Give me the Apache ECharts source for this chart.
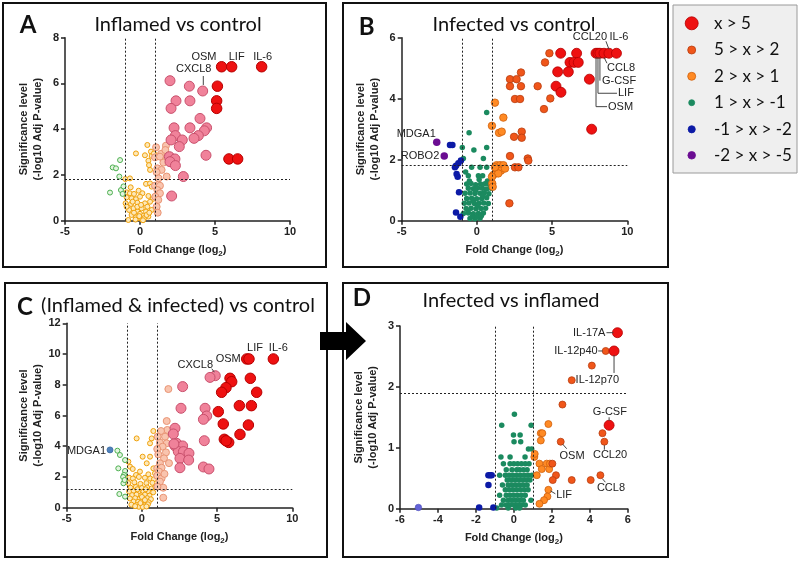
<!DOCTYPE html>
<html><head><meta charset="utf-8">
<script src="https://cdn.jsdelivr.net/npm/echarts/dist/echarts.min.js"></script>
<style>html,body{margin:0;padding:0;background:#fff}#c{width:800px;height:561px}</style>
</head><body><div id="c"></div>
<script>
// ---------------- DATA ----------------
// Panel A: Inflamed vs control  [log2 fold change, -log10 adj p]
var A_red = [[5.44,6.73],[6.11,6.73],[8.11,6.73],[5.16,5.88],[5.11,5.24],[5.11,4.91],[5.93,2.70],[6.51,2.70]];
var A_pink = [[2.0,6.12],[3.29,5.88],[4.18,5.67],[2.4,5.24],[3.33,5.24],[2.07,4.91],[4.0,4.47],[2.27,4.06],[3.33,4.06],[4.44,4.06],[4.29,3.93],[2.36,3.72],[3.89,3.72],[2.07,3.53],[2.82,3.53],[3.6,3.6],[2.62,3.24],[1.96,2.80],[2.33,2.70],[4.4,2.86],[2.0,2.58],[2.36,2.41],[2.89,1.93],[2.11,1.08]];
var A_salmon = [[1.07,3.21],[1.73,3.28],[1.4,2.92],[1.0,2.77],[1.69,3.09],[1.33,2.80],[1.73,2.65],[1.56,2.54],[1.16,2.29],[1.44,2.22],[1.11,2.12],[1.78,1.93],[1.24,1.85],[1.0,1.53],[1.33,1.53],[1.16,1.34],[1.33,1.2],[1.02,1.05],[1.22,0.91],[1.11,0.61],[1.18,0.35]];
var A_orange = [[0.49,3.31],[0.73,3.02],[-0.27,2.94],[0.33,2.86],[0.78,2.83],[0.56,2.62],[0.6,2.43],[0.93,2.94],[0.67,2.22],[-0.98,1.82],[-0.67,1.85],[-0.62,1.46],[0.40,1.61],[0.67,1.63],[0.78,1.49],[-0.09,1.31],[0.16,1.20],[-0.89,1.24],[-0.67,1.20],[-0.4,1.17],[-0.89,1.02],[-0.56,0.98],[-0.27,0.94],[0.0,1.05],[0.56,1.08],[0.84,0.95],[-0.96,0.76],[-0.6,0.73],[-0.18,0.79],[0.33,0.76],[0.67,0.83],[-0.44,0.54],[0.11,0.54],[0.49,0.61],[-0.73,0.47],[-0.16,0.40],[0.4,0.40],[0.78,0.47],[-0.56,0.25],[0.0,0.30],[0.22,0.21],[-0.27,0.15],[-0.04,0.11],[0.11,0.06],[-0.78,0.03],[0.27,0.11],[0.56,0.18],[-0.4,0.35],[-0.89,0.61],[0.44,0.25],[-0.18,0.61],[0.07,0.69],[0.62,0.35],[-0.49,0.83],[-0.05,0.2],[0.2,0.02],[-0.3,0.05]];
var A_green = [[-1.33,2.65],[-1.82,2.33],[-1.6,2.29],[-1.38,1.93],[-2.0,1.23],[-1.27,1.34],[-1.16,1.17],[-1.1,1.5]];
var A_threshold = 1.82;

// Panel B: Infected vs control
var B_red = [[7.92,5.49],[8.05,5.49],[8.18,5.49],[8.45,5.49],[8.78,5.49],[9.28,5.49],[5.57,5.49],[6.63,5.49],[6.19,5.19],[6.46,5.19],[6.74,5.19],[5.37,4.88],[6.08,4.88],[7.48,4.64],[5.26,4.41],[5.59,4.21],[7.63,3.0]];
var B_orangered = [[4.82,5.49],[4.53,5.19],[2.93,4.86],[2.2,4.64],[2.64,4.64],[2.2,4.41],[2.93,4.41],[4.04,4.41],[2.53,3.99],[2.87,3.99],[4.88,4.01],[4.46,3.66],[2.98,2.92],[2.47,2.75],[2.98,2.72],[2.2,2.12],[3.38,2.04],[3.42,1.97],[2.53,1.75],[2.76,1.75],[2.16,0.57]];
var B_orange = [[1.2,3.87],[1.0,3.11],[1.47,2.88],[1.65,2.92],[1.76,3.38],[1.31,1.82],[1.54,1.82],[1.76,1.82],[1.31,1.66],[1.6,1.64],[1.87,1.71],[1.09,1.5],[1.42,1.55],[1.02,1.22],[1.05,1.11],[1.2,1.75],[1.0,1.44]];
var B_green = [[0.65,3.55],[-0.52,2.88],[-0.97,2.4],[-0.2,2.32],[0.65,2.4],[-0.9,2.04],[0.43,2.04],[-0.75,1.6],[-0.35,1.75],[0.21,1.75],[0.65,1.75],[0.1,1.47],[0.38,1.47],[-0.57,1.47],
  [-0.68,1.2],[-0.39,1.22],[-0.08,1.18],[0.25,1.2],[0.54,1.21],[0.83,1.19],
  [-0.57,1.06],[-0.24,1.05],[0.05,1.07],[0.36,1.06],[0.65,1.04],[0.94,1.06],
  [-0.79,0.9],[-0.46,0.91],[-0.13,0.89],[0.21,0.9],[0.49,0.92],[0.8,0.88],
  [-0.68,0.73],[-0.35,0.74],[-0.02,0.72],[0.32,0.73],[0.65,0.75],
  [-0.84,0.57],[-0.53,0.58],[-0.17,0.56],[0.14,0.57],[0.45,0.58],[0.76,0.56],
  [-0.72,0.4],[-0.39,0.41],[-0.06,0.39],[0.27,0.4],[0.58,0.41],
  [-0.9,0.24],[-0.57,0.25],[-0.24,0.23],[0.1,0.24],[0.43,0.25],
  [-0.46,0.07],[-0.13,0.06],[0.21,0.08],[-0.3,0.15],[0.0,0.12],[0.3,0.16],[-0.6,0.32],[0.05,0.5],[-0.25,0.65],[0.4,0.83],[-0.1,0.98],[0.7,1.3],[-0.5,1.3],[0.15,1.35]];
var B_blue = [[-1.79,2.48],[-1.63,2.48],[-1.39,1.80],[-1.23,1.88],[-1.46,1.75],[-1.35,1.53],[-1.28,1.44],[-1.19,0.93],[-1.39,0.27],[-1.10,0.13],[-1.06,1.97]];
var B_purple = [[-2.67,2.57],[-2.17,2.12]];
var B_threshold = 1.83;

// Panel C: (Inflamed & infected) vs control
var C_red = [[6.97,9.68],[7.12,9.68],[8.74,9.68],[5.86,8.42],[5.97,8.2],[5.59,7.81],[5.3,7.51],[7.21,8.42],[7.63,7.51],[6.48,6.64],[7.28,6.64],[5.08,6.25],[5.41,5.45],[7.08,5.38],[6.52,4.77],[5.48,4.45],[5.77,4.25],[5.6,4.35]];
var C_pink = [[4.88,8.59],[4.53,8.48],[2.71,7.88],[2.6,6.47],[4.2,6.47],[4.31,5.97],[4.09,5.75],[2.2,5.17],[2.09,4.8],[2.31,4.19],[2.2,4.02],[2.71,4.02],[4.15,4.36],[2.42,3.65],[2.76,3.65],[3.13,3.54],[2.53,3.21],[3.11,3.1],[2.53,2.6],[4.09,2.65],[4.46,2.52],[2.13,4.15]];
var C_salmon = [[1.76,7.72],[1.65,5.64],[1.69,5.06],[1.27,4.99],[1.05,4.62],[1.54,4.62],[1.2,4.23],[1.65,4.19],[1.38,3.97],[1.02,3.82],[1.09,3.47],[1.6,3.6],[1.47,3.21],[1.2,2.89],[1.02,2.56],[1.31,2.6],[1.14,2.35],[1.02,2.08],[1.31,1.91],[1.2,1.7],[1.42,1.3],[1.03,1.37],[1.42,0.65],[1.8,2.9],[1.5,2.2]];
var C_orange = [[-0.35,4.51],[0.76,4.99],[0.65,4.51],[0.54,4.19],[0.05,3.32],[-0.9,3.0],[0.54,3.32],[-0.79,2.67],[-0.61,2.52],[0.32,2.89],[0.76,2.56],[0.87,2.24],[0.43,2.17],[-0.13,2.35],[-0.39,2.13],
  [-0.85,1.95],[-0.6,1.9],[-0.2,2.0],[0.2,1.95],[0.55,1.9],[0.8,1.85],
  [-0.9,1.6],[-0.5,1.65],[-0.1,1.55],[0.3,1.6],[0.7,1.62],
  [-0.75,1.3],[-0.4,1.35],[0.0,1.28],[0.35,1.32],[0.65,1.25],[0.9,1.35],
  [-0.85,1.05],[-0.55,1.1],[-0.25,1.0],[0.1,1.05],[0.4,1.08],[0.75,1.0],
  [-0.65,0.82],[-0.35,0.85],[-0.05,0.8],[0.2,0.85],[0.5,0.78],
  [-0.8,0.6],[-0.45,0.62],[-0.15,0.58],[0.1,0.6],[0.35,0.62],[0.6,0.55],
  [-0.55,0.4],[-0.25,0.38],[0.0,0.42],[0.25,0.4],[0.45,0.35],
  [-0.7,0.2],[-0.35,0.18],[-0.05,0.2],[0.15,0.15],[0.4,0.22],
  [-0.2,0.06],[0.05,0.05],[0.3,0.08],[-0.45,0.1],[0.0,0.7],[-0.3,1.2],[0.25,1.2],[-0.1,0.3],[0.2,0.5]];
var C_green = [[-1.63,3.71],[-1.46,3.43],[-1.12,3.1],[-1.57,2.56],[-1.12,2.39],[-1.19,2.13],[-1.23,1.59],[-1.5,0.89],[-1.12,0.72],[-1.25,2.0],[-1.15,1.8]];
var C_blue = [[-2.12,3.76]];
var C_threshold = 1.2;

// Panel D: Infected vs inflamed
var D_red = [[5.46,2.89],[5.28,2.59],[5.02,1.37]];
var D_orangered = [[4.84,2.59],[4.11,2.35],[3.05,2.11],[2.56,1.71],[4.67,1.24],[4.77,1.10],[2.47,1.10],[2.03,0.74],[2.22,0.55],[2.05,0.47],[3.05,0.47],[4.05,0.47],[4.56,0.55]];
var D_orange = [[1.82,1.39],[1.42,1.24],[1.5,1.24],[1.42,1.12],[1.08,0.85],[1.35,0.74],[1.73,0.74],[1.47,0.65],[1.86,0.65],[1.21,0.55],[1.82,0.31],[1.77,0.2],[1.59,0.14],[1.35,0.08],[1.9,0.74],[1.1,0.9]];
var D_green = [[0.03,1.55],[-0.64,1.37],[0.91,1.37],[-0.02,1.21],[0.33,1.21],[0.01,1.10],[0.36,1.10],[0.77,0.98],[0.94,0.98],[-0.68,0.85],[-0.2,0.85],[0.59,0.85],
  [-0.55,0.74],[-0.2,0.74],[0.0,0.74],[0.2,0.74],[0.4,0.74],[0.6,0.74],[0.8,0.74],
  [-0.4,0.64],[-0.1,0.64],[0.15,0.64],[0.3,0.64],[0.5,0.64],[0.7,0.64],
  [-0.75,0.55],[-0.45,0.55],[-0.25,0.55],[-0.05,0.55],[0.15,0.55],[0.35,0.55],[0.55,0.55],[0.75,0.55],[0.95,0.55],
  [-0.35,0.47],[-0.15,0.47],[0.05,0.47],[0.25,0.47],[0.45,0.47],[0.65,0.47],[0.85,0.47],
  [-0.6,0.39],[-0.3,0.39],[-0.1,0.39],[0.1,0.39],[0.3,0.39],[0.5,0.39],[0.7,0.39],
  [-0.45,0.31],[-0.25,0.31],[-0.05,0.31],[0.15,0.31],[0.35,0.31],[0.55,0.31],[0.75,0.31],
  [-0.75,0.22],[-0.4,0.22],[-0.2,0.22],[0.0,0.22],[0.2,0.22],[0.4,0.22],[0.6,0.22],
  [-0.55,0.14],[-0.3,0.14],[-0.1,0.14],[0.1,0.14],[0.3,0.14],[0.5,0.14],[0.9,0.14],
  [-0.65,0.06],[-0.4,0.06],[-0.2,0.06],[0.0,0.06],[0.2,0.06],[0.4,0.06],[0.6,0.06],
  [-0.9,0.01],[-0.3,0.01],[0.1,0.01],[0.3,0.01]];
var D_blue = [[-1.34,0.55],[-1.25,0.55],[-1.17,0.55],[-1.34,0.39],[-1.83,0.02],[-1.08,0.02]];
var D_lavender = [[-5.03,0.02]];
var D_threshold = 1.895;

var foldLines = [-1, 1];

// axis ranges [min, max, interval]
var xRanges = [[-5,10,5],[-5,10,5],[-5,10,5],[-6,6,2]];
var yRanges = [[0,8,2],[0,6,2],[0,12,2],[0,3,1]];

var panelLetters = ['A','B','C','D'];
var panelTitles = ['Inflamed vs control','Infected vs control','(Inflamed & infected) vs control','Infected vs inflamed'];
var yName1 = 'Significance level', yName2 = '(-log10 Adj P-value)';
var legendLabels = ['x > 5','5 > x > 2','2 > x > 1','1 > x > -1','-1 > x > -2','-2 > x > -5'];

// labelled genes: name + the point it belongs to
var A_labelNames = ['OSM','LIF','IL-6','CXCL8'];
var A_labelPts = [A_red[0], A_red[1], A_red[2], A_pink[2]];
var B_labelNames = ['OSM','LIF','G-CSF','CCL8','CCL20','IL-6','MDGA1','ROBO2'];
var B_labelPts = [B_red[0],B_red[1],B_red[2],B_red[3],B_red[4],B_red[5],B_purple[0],B_purple[1]];
var C_labelNames = ['LIF','IL-6','OSM','CXCL8','MDGA1'];
var C_labelPts = [C_red[1],C_red[2],C_red[0],C_pink[0],C_blue[0]];
var D_labelNames = ['IL-17A','IL-12p40','IL-12p70','G-CSF','CCL20','CCL8','OSM','LIF'];
var D_labelPts = [D_red[0],D_orangered[0],D_red[1],D_red[2],D_orangered[5],D_orangered[12],D_orangered[6],D_orange[10]];

// ---------------- STYLE / LAYOUT ----------------
var AX_FONT = '"Liberation Sans", Arial, sans-serif';
var TITLE_FONT = 'Lato, "Open Sans", sans-serif';
var COL = {
  red:['#ee1111','#b50000'], orangered:['#f0561a','#b83e10'], orange:['#ff8a24','#cf600c'],
  green:['#1b8a5f','#1b8a5f'], blue:['#0c1aa6','#0c1aa6'], purple:['#6b0d92','#6b0d92'],
  pink:['#f0829a','#c8506c'], salmon:['#f9c4ae','#e89474'], ring:['#fde8b8','#efa00a'],
  ringGreen:['#e3f4df','#4caf50'], steel:['#4f81bd','#3a6aa0'], lav:['#6464d8','#4a4ab8']
};
var grids = [
  {left:65, top:37.7, width:225, height:183},
  {left:401.7, top:37.7, width:225.6, height:183},
  {left:66.7, top:323.3, width:225.6, height:184.4},
  {left:400, top:326, width:227.7, height:182.7}
];
var labelStyles = [
  [ {dx:-17.6,dy:-9.6,al:'center'}, {dx:5,dy:-9.6,al:'center'}, {dx:1,dy:-9.6,al:'center'},
    {dx:-9,dy:-22,al:'center',line:[[0.6,-6],[0.6,-15]]} ],
  [ {dx:12,dy:53.4,al:'left',line:[[0,4],[0,53.4],[11,53.4]]},
    {dx:20,dy:40,al:'left',line:[[0,4],[0,40],[19,40]]},
    {dx:2,dy:27.4,al:'left',line:[[0,4],[0,27.4]]},
    {dx:3,dy:15,al:'left',line:[[0,4],[3,10]]},
    {dx:-19,dy:-16.6,al:'center',line:[[-3,-12],[0,-4]]},
    {dx:2.5,dy:-16.6,al:'center'},
    {dx:-1,dy:-8,al:'right'},
    {dx:-5,dy:0,al:'right'} ],
  [ {dx:6,dy:-10.6,al:'center'}, {dx:5,dy:-10.6,al:'center'}, {dx:-6,dy:0.4,al:'right'},
    {dx:-20,dy:-10.7,al:'center',line:[[-3.5,-7],[-1,-3.5]]}, {dx:-4,dy:1,al:'right'} ],
  [ {dx:-12,dy:0.5,al:'right',line:[[-11,0],[-4,0]]},
    {dx:-8,dy:0,al:'right',line:[[-7.5,0],[-3,0]]},
    {dx:5,dy:29,al:'right',line:[[0,4],[0,22]]},
    {dx:0.7,dy:-13.6,al:'center',line:[[0,-4.5],[0,-8]]},
    {dx:5.7,dy:13.3,al:'center',line:[[0,3.5],[0,8]]},
    {dx:10.6,dy:13.1,al:'center',line:[[2,3.5],[5,7]]},
    {dx:11.3,dy:14,al:'center',line:[[2,2.5],[6,7]]},
    {dx:15.7,dy:5.2,al:'center',line:[[2,1],[7,4]]} ]
];

function sc(g, data, size, c, bw, z) {
  return {type:'scatter', xAxisIndex:g, yAxisIndex:g, data:data, symbolSize:size, z:z||2,
    itemStyle:{color:c[0], borderColor:c[1], borderWidth:bw, opacity:1}, emphasis:{disabled:true}};
}
function guide(g, th) {
  return {type:'scatter', xAxisIndex:g, yAxisIndex:g, data:[], silent:true,
    markLine:{silent:true, symbol:'none', label:{show:false}, animation:false,
      lineStyle:{type:[2,2], color:'#222', width:1},
      data:[{xAxis:foldLines[0]},{xAxis:foldLines[1]},{yAxis:th}]}};
}

var series = [
  guide(0,A_threshold),
  sc(0,A_orange,5,COL.ring,1), sc(0,A_green,5,COL.ringGreen,1), sc(0,A_salmon,7,COL.salmon,1),
  sc(0,A_pink,10,COL.pink,1), sc(0,A_red,10.5,COL.red,1),
  guide(1,B_threshold),
  sc(1,B_green,5.5,COL.green,0), sc(1,B_blue,6.5,COL.blue,0), sc(1,B_purple,7.5,COL.purple,0),
  sc(1,B_orange,7.5,COL.orange,0.8), sc(1,B_orangered,7.5,COL.orangered,0.8), sc(1,B_red,10,COL.red,0.8),
  guide(2,C_threshold),
  sc(2,C_orange,5,COL.ring,1), sc(2,C_green,5,COL.ringGreen,1), sc(2,C_blue,6,COL.steel,0.8),
  sc(2,C_salmon,7,COL.salmon,1), sc(2,C_pink,10,COL.pink,1), sc(2,C_red,10.5,COL.red,1),
  guide(3,D_threshold),
  sc(3,D_green,5.5,COL.green,0), sc(3,D_blue,6.5,COL.blue,0), sc(3,D_lavender,6.5,COL.lav,0.6),
  sc(3,D_orange,7,COL.orange,0.8), sc(3,D_orangered,7,COL.orangered,0.8), sc(3,D_red,10,COL.red,0.8)
];

var axisLineStyle = {show:true, onZero:false, lineStyle:{color:'#222', width:1.5}};
var xAxes = xRanges.map(function(r,i){
  return {type:'value', gridIndex:i, min:r[0], max:r[1], interval:r[2],
    axisLine:axisLineStyle, axisTick:{show:true, length:4, lineStyle:{color:'#222',width:1.5}},
    splitLine:{show:false},
    axisLabel:{color:'#222', fontFamily:AX_FONT, fontWeight:'bold', fontSize:11, margin:6},
    name:'{a|Fold Change (log}{s|2}{a|)}', nameLocation:'middle', nameGap:22,
    nameTextStyle:{rich:{a:{fontFamily:AX_FONT, fontWeight:'bold', fontSize:11, color:'#222'},
      s:{fontFamily:AX_FONT, fontWeight:'bold', fontSize:8, color:'#222', padding:[7,0,0,0]}}}};
});
var yAxes = yRanges.map(function(r,i){
  return {type:'value', gridIndex:i, min:r[0], max:r[1], interval:r[2],
    axisLine:axisLineStyle, axisTick:{show:true, length:4, lineStyle:{color:'#222',width:1.5}},
    splitLine:{show:false},
    axisLabel:{color:'#222', fontFamily:AX_FONT, fontWeight:'bold', fontSize:11, margin:6},
    name:yName1+'\n'+yName2, nameLocation:'middle', nameGap:20, nameRotate:90,
    nameTextStyle:{fontFamily:AX_FONT, fontWeight:'bold', fontSize:11, color:'#222', lineHeight:14}};
});

var chart = echarts.init(document.getElementById('c'), null, {renderer:'canvas'});
chart.setOption({animation:false, grid:grids, xAxis:xAxes, yAxis:yAxes, series:series});

// ---------------- GRAPHICS ----------------
var gfx = [];
var boxes = [[3,3,323,264],[343,3,325,264],[5,283,322,274],[343,283,325,274]];
boxes.forEach(function(b){
  gfx.push({type:'rect', shape:{x:b[0],y:b[1],width:b[2],height:b[3]}, z:1,
    style:{fill:'none', stroke:'#111', lineWidth:2}});
});
var letterPos = [[28,25],[366.7,27],[25,307],[362,298]];
var titlePos = [[178,25],[514,25],[178,306],[511,301]];
for (var i=0;i<4;i++){
  gfx.push({type:'text', x:letterPos[i][0], y:letterPos[i][1], z:10,
    style:{text:panelLetters[i], font:'bold 24px '+TITLE_FONT, fill:'#111', align:'center', verticalAlign:'middle'}});
  gfx.push({type:'text', x:titlePos[i][0], y:titlePos[i][1], z:10,
    style:{text:panelTitles[i], font:'20px '+TITLE_FONT, fill:'#111', align:'center', verticalAlign:'middle'}});
}
// arrow
gfx.push({type:'polygon', z:20, shape:{points:[[320,332],[346,332],[346,322],[366,341],[346,360],[346,350],[320,350]]},
  style:{fill:'#000'}});
// legend
gfx.push({type:'rect', z:5, shape:{x:673,y:5,width:124,height:168}, style:{fill:'#efefef', stroke:'#9a9a9a', lineWidth:1}});
var legCols = [COL.red, COL.orangered, COL.orange, COL.green, COL.blue, COL.purple];
var legR = [6.5,4,4,3,3.6,3.8];
var legY = [23.3,50,76.3,102.7,129.3,155.3];
for (var k=0;k<6;k++){
  gfx.push({type:'circle', z:6, shape:{cx:691.7, cy:legY[k], r:legR[k]}, style:{fill:legCols[k][0], stroke:legCols[k][1], lineWidth:0.8}});
  gfx.push({type:'text', z:6, x:714, y:legY[k], style:{text:legendLabels[k], font:'17px '+TITLE_FONT, fill:'#111', align:'left', verticalAlign:'middle'}});
}
// gene labels, placed relative to their point through the axes
var allNames = [A_labelNames, B_labelNames, C_labelNames, D_labelNames];
var allPts = [A_labelPts, B_labelPts, C_labelPts, D_labelPts];
for (var g=0; g<4; g++){
  for (var j=0; j<allNames[g].length; j++){
    var p = chart.convertToPixel({gridIndex:g}, allPts[g][j]);
    var s = labelStyles[g][j];
    gfx.push({type:'text', z:15, x:p[0]+s.dx, y:p[1]+s.dy,
      style:{text:allNames[g][j], font:'11px '+AX_FONT, fill:'#222', align:s.al, verticalAlign:'middle'}});
    if (s.line){
      gfx.push({type:'polyline', z:15, shape:{points:s.line.map(function(o){return [p[0]+o[0], p[1]+o[1]];})},
        style:{stroke:'#444', lineWidth:1, fill:'none'}});
    }
  }
}
chart.setOption({graphic:gfx});
</script></body></html>
